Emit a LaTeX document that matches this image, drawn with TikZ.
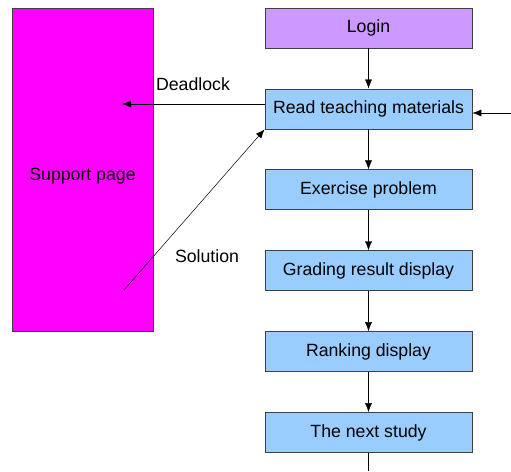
\documentclass[tikz,border=0pt]{standalone}
\usepackage{fontspec}
\setmainfont{Liberation Sans}
\usetikzlibrary{positioning,arrows.meta}
\definecolor{loginpurple}{HTML}{CC99FF}
\definecolor{stepblue}{HTML}{99CCFF}
\definecolor{supportpink}{HTML}{FF00FF}

\begin{document}
\begin{tikzpicture}[x=1pt,y=-1pt,>={Latex[length=9pt,width=7pt]},
        box/.style = {draw=black!75, line width=0.8pt, fill=stepblue, minimum width=207pt, minimum height=40pt, inner sep=0pt, font=\fontsize{17.7}{20}\selectfont},
        lbl/.style = {font=\fontsize{17.7}{20}\selectfont},
        node distance={40.1pt}]
        \useasboundingbox (0,0) rectangle (511,471);
        \node[draw=black!75, line width=0.8pt, fill=supportpink, minimum width=141pt, minimum height=323pt, inner sep=0pt,
              label={[lbl,yshift=-7pt]center:Support page}] (support) at (82.5,169.5) {};
        \node[box, fill=loginpurple] (login) at (368.5,28) {Login};
        \node[box] (read) [below=of login] {Read teaching materials};
        \node[box] (exercise) [below=of read] {Exercise problem};
        \node[box] (grading) [below=of exercise] {Grading result display};
        \node[box] (ranking) [below=of grading] {Ranking display};
        \node[box] (next) [below=of ranking] {The next study};
        \coordinate (out) at (368.5,471);
        \coordinate (back) at (511,113);
        \coordinate (dead) at (122,104);
        \coordinate (sol) at (124,290);
        \node[lbl] (deadlbl) at (193,84) {Deadlock};
        \node[lbl] (sollbl) at (207,256) {Solution};
        \draw[->] (login) -- (read);
        \draw[->] (read) -- (exercise);
        \draw[->] (exercise) -- (grading);
        \draw[->] (grading) -- (ranking);
        \draw[->] (ranking) -- (next);
        \draw (next) -- (out);
        \draw[->] (back) -- (read.east |- back);
        \draw[->] (read.west |- dead) -- (dead);
        \draw[->, line width=0.5pt] (sol) -- (read.south west);
\end{tikzpicture}
\end{document}
